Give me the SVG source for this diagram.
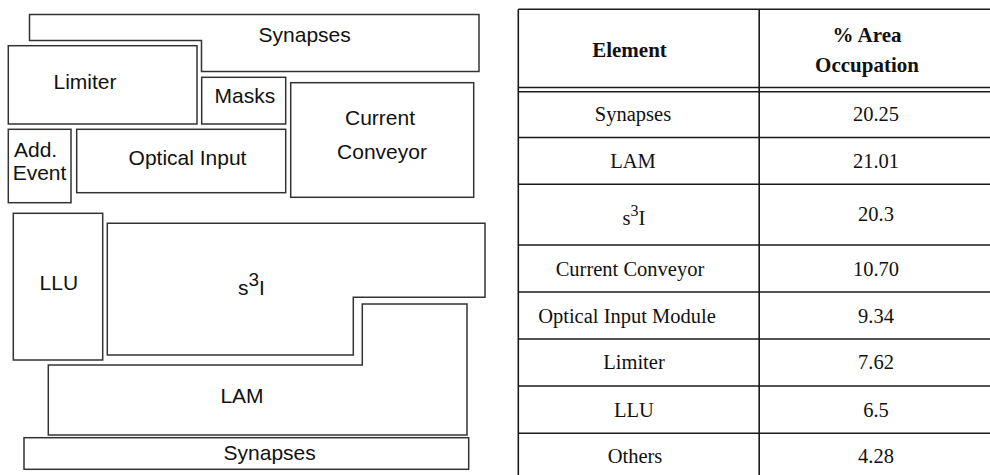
<svg xmlns="http://www.w3.org/2000/svg" width="990" height="475" viewBox="0 0 990 475">
  <style>
    .blk { fill: #ffffff; stroke: #333333; stroke-width: 1.5; }
    .lbl { font-family: "Liberation Sans", Arial, sans-serif; font-size: 21px; fill: #111111; }
    .mid { text-anchor: middle; }
    .grid { stroke: #1a1a1a; stroke-width: 1.6; fill: none; }
    .cell { font-family: "Liberation Serif", "Times New Roman", serif; font-size: 20.5px; fill: #111111; text-anchor: middle; }
    .head { font-family: "Liberation Serif", "Times New Roman", serif; font-size: 21px; font-weight: bold; fill: #111111; text-anchor: middle; }
  </style>
  <rect width="990" height="475" fill="#ffffff"/>

  <!-- floorplan blocks -->
  <g id="synapses-top">
    <polygon class="blk" points="29.5,14.5 479,14.5 479,71.5 201.5,71.5 201.5,40.5 29.5,40.5"/>
    <text class="lbl mid" x="304.7" y="41.7">Synapses</text>
  </g>
  <g id="limiter">
    <rect class="blk" x="8.3" y="45.7" width="188.7" height="78.3"/>
    <text class="lbl mid" x="85" y="89">Limiter</text>
  </g>
  <g id="masks">
    <rect class="blk" x="201.7" y="77.3" width="84" height="46.7"/>
    <text class="lbl mid" x="244.8" y="102.7">Masks</text>
  </g>
  <g id="current-conveyor">
    <rect class="blk" x="290.7" y="82.7" width="183" height="114.6"/>
    <text class="lbl mid" x="380" y="125">Current</text>
    <text class="lbl mid" x="382" y="158.5">Conveyor</text>
  </g>
  <g id="add-event">
    <rect class="blk" x="8.3" y="129.3" width="62.7" height="73.4"/>
    <text class="lbl" x="14" y="156.5">Add.</text>
    <text class="lbl mid" x="39.5" y="180">Event</text>
  </g>
  <g id="optical-input">
    <rect class="blk" x="76.7" y="129.3" width="209" height="63.4"/>
    <text class="lbl mid" x="187.5" y="165">Optical Input</text>
  </g>
  <g id="llu">
    <rect class="blk" x="13.3" y="213.3" width="89.4" height="146.7"/>
    <text class="lbl mid" x="58.8" y="290">LLU</text>
  </g>
  <g id="s3i">
    <polygon class="blk" points="107.3,223.3 485,223.3 485,297.3 353.3,297.3 353.3,355 107.3,355"/>
    <text class="lbl" x="238" y="295">s<tspan font-size="19" dy="-9">3</tspan><tspan dy="9">I</tspan></text>
  </g>
  <g id="lam">
    <polygon class="blk" points="48.3,365 362.3,365 362.3,304 467,304 467,435 48.3,435"/>
    <text class="lbl mid" x="242" y="403">LAM</text>
  </g>
  <g id="synapses-bottom">
    <rect class="blk" x="24" y="437.7" width="444.7" height="31.6"/>
    <text class="lbl mid" x="269.7" y="460">Synapses</text>
  </g>

  <g id="connectors"/>

  <!-- area occupation table -->
  <g id="table">
    <line class="grid" x1="518.3" y1="9.3" x2="990" y2="9.3"/>
    <line class="grid" x1="518.3" y1="9.3" x2="518.3" y2="475"/>
    <line class="grid" x1="759.2" y1="9.3" x2="759.2" y2="475"/>
    <line class="grid" x1="518.3" y1="87.5" x2="990" y2="87.5"/>
    <line class="grid" x1="518.3" y1="91.7" x2="990" y2="91.7"/>
    <line class="grid" x1="518.3" y1="137.5" x2="990" y2="137.5"/>
    <line class="grid" x1="518.3" y1="184.3" x2="990" y2="184.3"/>
    <line class="grid" x1="518.3" y1="245" x2="990" y2="245"/>
    <line class="grid" x1="518.3" y1="292" x2="990" y2="292"/>
    <line class="grid" x1="518.3" y1="339" x2="990" y2="339"/>
    <line class="grid" x1="518.3" y1="386" x2="990" y2="386"/>
    <line class="grid" x1="518.3" y1="433.3" x2="990" y2="433.3"/>

    <text class="head" x="629.5" y="57.3">Element</text>
    <text class="head" x="867" y="41.7">% Area</text>
    <text class="head" x="867" y="71.7">Occupation</text>

    <text class="cell" x="633" y="121.4">Synapses</text>
    <text class="cell" x="876" y="121.4">20.25</text>
    <text class="cell" x="633" y="167.7">LAM</text>
    <text class="cell" x="876" y="167.7">21.01</text>
    <text class="cell" x="634" y="225">s<tspan font-size="16" dy="-9">3</tspan><tspan dy="9">I</tspan></text>
    <text class="cell" x="876" y="221">20.3</text>
    <text class="cell" x="630" y="275.5">Current Conveyor</text>
    <text class="cell" x="876" y="275.5">10.70</text>
    <text class="cell" x="627" y="322.5">Optical Input Module</text>
    <text class="cell" x="876" y="322.5">9.34</text>
    <text class="cell" x="634" y="369.3">Limiter</text>
    <text class="cell" x="876" y="369.3">7.62</text>
    <text class="cell" x="634" y="416.5">LLU</text>
    <text class="cell" x="876" y="416.5">6.5</text>
    <text class="cell" x="635" y="462.7">Others</text>
    <text class="cell" x="876" y="462.7">4.28</text>
  </g>
</svg>
